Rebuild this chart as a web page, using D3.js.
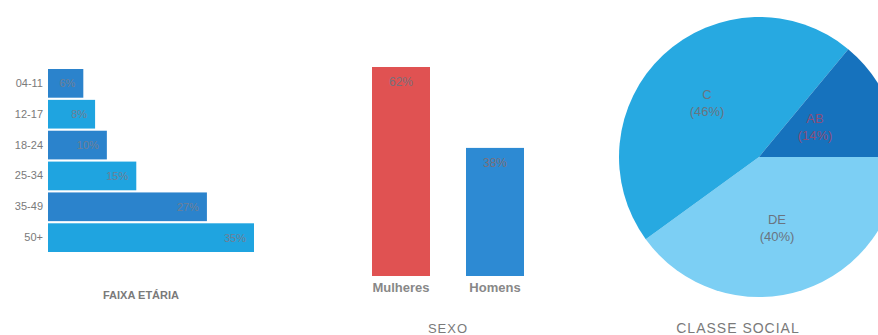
<!DOCTYPE html>
<html><head><meta charset="utf-8">
<script src="https://cdn.jsdelivr.net/npm/d3@7"></script>
<style>body{margin:0;background:#fff}svg{display:block}</style>
</head><body>
<script>
const ageCats = ["04-11","12-17","18-24","25-34","35-49","50+"];
const ageVals = [6,8,10,15,27,35];
const sexCats = ["Mulheres","Homens"];
const sexVals = [62,38];
const classCats = ["DE","C","AB"];
const classVals = [40,46,14];

const svg = d3.select("body").append("svg").attr("width",878).attr("height",335);
const grey = "#7a7a7a";
const font = "'Liberation Sans',Arial,sans-serif";

// Age chart
const gA = svg.append("g");
const xA = d3.scaleLinear().domain([0,35]).range([48,254]);
const yA = d3.scaleBand().domain(ageCats).range([69,252]).paddingInner(0.07);
const ageColors = ["#2b83cc","#1fa4e0"];
gA.selectAll("rect").data(ageVals).join("rect")
  .attr("x",xA(0)).attr("y",(d,i)=>yA(ageCats[i]))
  .attr("width",d=>xA(d)-xA(0)).attr("height",yA.bandwidth())
  .attr("fill",(d,i)=>ageColors[i%2]);
gA.selectAll("text.v").data(ageVals).join("text").attr("class","v")
  .attr("x",d=>xA(d)-8).attr("y",(d,i)=>yA(ageCats[i])+yA.bandwidth()/2+4)
  .attr("text-anchor","end").attr("fill","#6f7f95").attr("font-family",font).attr("font-size",11)
  .text(d=>d+"%");
const axA = gA.append("g").attr("transform","translate(48,0)")
  .call(d3.axisLeft(yA).tickSize(0).tickPadding(5));
axA.select(".domain").remove();
axA.selectAll("text").attr("fill",grey).attr("font-family",font).attr("font-size",11);
gA.append("text").attr("x",141).attr("y",299).attr("text-anchor","middle")
  .attr("fill",grey).attr("font-family",font).attr("font-size",11).attr("font-weight","bold").text("FAIXA ETÁRIA");

// Sex chart
const gS = svg.append("g");
const xS = d3.scaleBand().domain(sexCats).range([372,524]).paddingInner(0.383).paddingOuter(0);
const yS = d3.scaleLinear().domain([0,62]).range([276,67]);
const sexColors = ["#e05252","#2d8ad3"];
gS.selectAll("rect").data(sexVals).join("rect")
  .attr("x",(d,i)=>xS(sexCats[i])).attr("y",d=>yS(d))
  .attr("width",xS.bandwidth()).attr("height",d=>yS(0)-yS(d))
  .attr("fill",(d,i)=>sexColors[i]);
gS.selectAll("text.v").data(sexVals).join("text").attr("class","v")
  .attr("x",(d,i)=>xS(sexCats[i])+xS.bandwidth()/2).attr("y",d=>yS(d)+19)
  .attr("text-anchor","middle").attr("fill","#7a6f7a").attr("font-family",font).attr("font-size",12)
  .text(d=>d+"%");
const axS = gS.append("g").attr("transform","translate(0,276)")
  .call(d3.axisBottom(xS).tickSize(0).tickPadding(7));
axS.select(".domain").remove();
axS.selectAll("text").attr("fill","#888").attr("font-family",font).attr("font-size",13).attr("font-weight","bold");
gS.append("text").attr("x",448).attr("y",333).attr("text-anchor","middle")
  .attr("fill",grey).attr("font-family",font).attr("font-size",13).attr("letter-spacing",1).text("SEXO");

// Pie
const gP = svg.append("g").attr("transform","translate(759,157)");
const r = 140;
const pie = d3.pie().sort(null).startAngle(Math.PI/2).endAngle(Math.PI/2+2*Math.PI);
const arcs = pie(classVals);
const arc = d3.arc().innerRadius(0).outerRadius(r);
const pieColors = ["#7ccff4","#27a9e1","#1672bd"];
gP.selectAll("path").data(arcs).join("path").attr("d",arc).attr("fill",(d,i)=>pieColors[i]);
const labelPos = [[18,67],[-52,-58],[56,-34]];
const labelCol = ["#6a7480","#6a7480","#8a4f7a"];
arcs.forEach((a,i)=>{
  const t = gP.append("text").attr("text-anchor","middle").attr("font-family",font).attr("font-size",13)
    .attr("fill",labelCol[i]).attr("transform",`translate(${labelPos[i][0]},${labelPos[i][1]})`);
  t.append("tspan").attr("x",0).attr("dy",0).text(classCats[i]);
  t.append("tspan").attr("x",0).attr("dy",17).text("("+classVals[i]+"%)");
});
svg.append("text").attr("x",738).attr("y",333).attr("text-anchor","middle")
  .attr("fill",grey).attr("font-family",font).attr("font-size",14).attr("letter-spacing",1).text("CLASSE SOCIAL");
</script>
</body></html>
